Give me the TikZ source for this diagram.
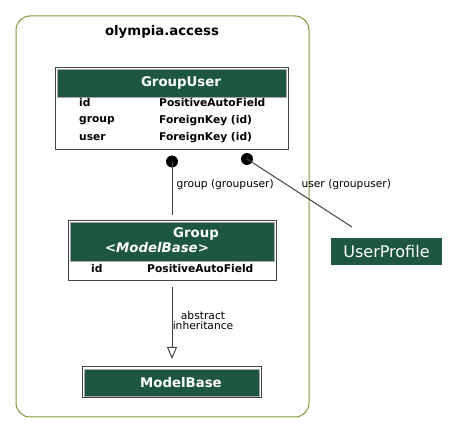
\documentclass[tikz,border=0pt]{standalone}
\usepackage{fontspec}
\setmainfont{DejaVu Sans}
\usepackage{xcolor}
\usetikzlibrary{arrows.meta, positioning, calc}

\definecolor{modelgreen}{HTML}{1D5740}
\definecolor{olive}{HTML}{7A9A3A}
\definecolor{edgegrey}{HTML}{444444}

\begin{document}
\begin{tikzpicture}[
        x=1pt, y=-1pt,
        package/.style={rectangle, draw=olive, line width=1pt, rounded corners=14pt},
        table/.style={rectangle, draw=edgegrey, line width=1pt, fill=white},
        header/.style={rectangle, draw=gray!70, line width=0.5pt, fill=modelgreen,
                       text=white, font=\bfseries\fontsize{13.3}{15}\selectfont},
        field/.style={anchor=west, inner sep=0pt, font=\bfseries\fontsize{10.7}{12}\selectfont},
        label/.style={font=\fontsize{10.7}{12}\selectfont, align=center},
        dot/.style={circle, fill=black, minimum size=12pt, inner sep=0pt},
        link/.style={draw=edgegrey, line width=1pt},
        inherit/.style={draw=edgegrey, line width=1pt, -{Triangle[open, length=12pt, width=10pt]}}
      ]
      \useasboundingbox (0,0) rectangle (459,433);

      % package frame
      \node (access) [package, minimum width=293pt, minimum height=401pt] at (162.5,216.5) {};
      \node (accesstitle) [font=\bfseries\fontsize{13.3}{15}\selectfont] at (162,32) {olympia.access};

      % GroupUser model
      \node (groupuser) [table, minimum width=233pt, minimum height=82pt] at (171.5,109) {};
      \node (groupuserhead) [header, minimum width=229pt, minimum height=28pt, anchor=north]
            at ([yshift=-1.5pt]groupuser.north) {};
      \node (groupusertitle) [text=white, font=\bfseries\fontsize{13.3}{15}\selectfont]
            at ([xshift=9.5pt]groupuserhead.center) {GroupUser};
      \node (gu_id) [field] at (79,103) {id};
      \node (gu_idtype) [field] at (159,103) {PositiveAutoField};
      \node (gu_group) [field] at (79,121) {group};
      \node (gu_grouptype) [field] at (159,121) {ForeignKey (id)};
      \node (gu_user) [field] at (79,138) {user};
      \node (gu_usertype) [field] at (159,138) {ForeignKey (id)};

      % Group model
      \node (group) [table, minimum width=208pt, minimum height=60pt] at (172,251) {};
      \node (grouphead) [header, minimum width=204pt, minimum height=39pt, anchor=north]
            at ([yshift=-1.5pt]group.north) {};
      \node (grouptitle) [text=white, font=\bfseries\fontsize{13.3}{15}\selectfont] at (196,234) {Group};
      \node (groupbase) [text=white, font=\bfseries\itshape\fontsize{13.3}{15}\selectfont] at (157,248) {<ModelBase>};
      \node (g_id) [field] at (91,269) {id};
      \node (g_idtype) [field] at (147,269) {PositiveAutoField};

      % ModelBase model
      \node (modelbase) [table, minimum width=179pt, minimum height=31pt] at (171.5,382.5) {};
      \node (modelbasehead) [header, minimum width=175pt, minimum height=27pt] at (modelbase.center) {};
      \node (modelbasetitle) [text=white, font=\bfseries\fontsize{13.3}{15}\selectfont]
            at ([xshift=9.5pt]modelbasehead.center) {ModelBase};

      % UserProfile (outside the package)
      \node (userprofile) [rectangle, fill=modelgreen, text=white, minimum width=111pt, minimum height=27pt,
                           font=\fontsize{16}{18}\selectfont] at (386.5,251.5) {UserProfile};

      % relations
      \node (groupdot) [dot] at (172,161.5) {};
      \node (userdot) [dot] at (247,159) {};
      \coordinate (groupend) at (172,215);
      \coordinate (userend) at (352,227);
      \coordinate (inheritstart) at (172,287);
      \coordinate (inheritend) at (172,359);

      \draw [link] (groupdot.center) -- (groupend);
      \draw [link] (userdot.center) -- (userend);
      \draw [inherit] (inheritstart) -- (inheritend);

      \node (grouplabel) [label, anchor=west] at (173,185) {group (groupuser)};
      \node (userlabel) [label, anchor=west] at (298,185) {user (groupuser)};
      \node (inheritlabel) [label] at (203,321) {abstract\\[-2pt]inheritance};

    \end{tikzpicture}
\end{document}
